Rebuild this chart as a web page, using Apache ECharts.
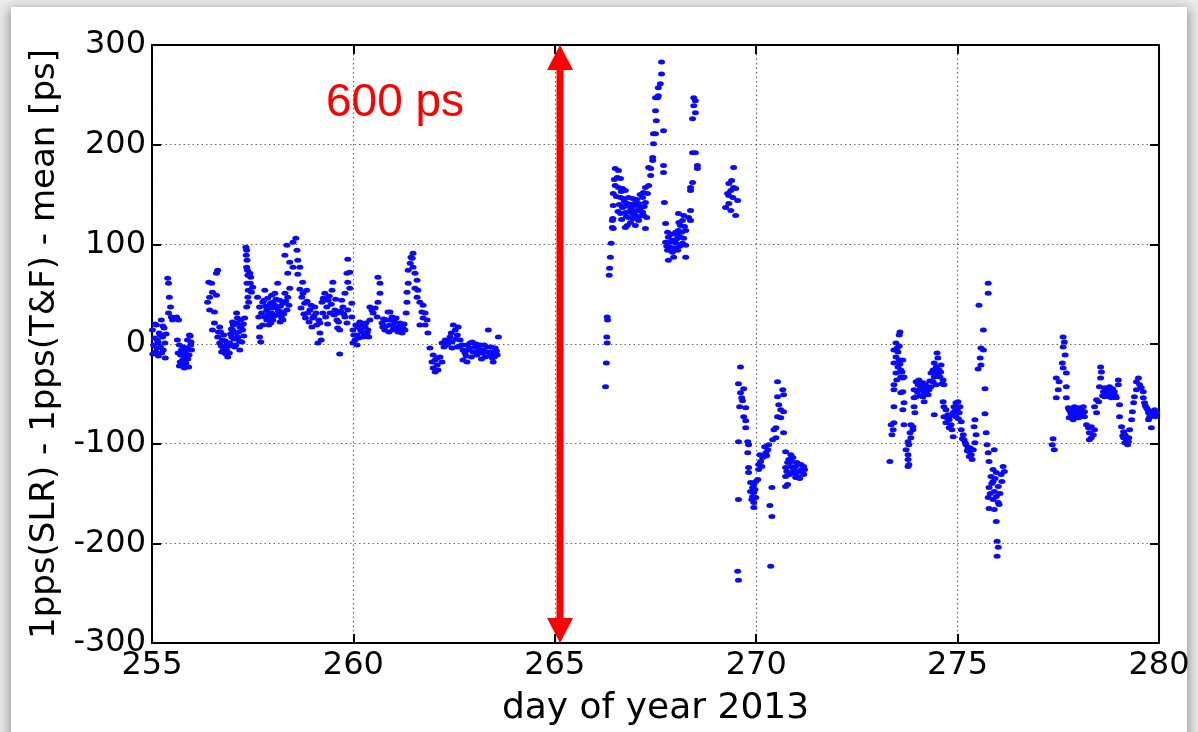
<!DOCTYPE html>
<html>
<head>
<meta charset="utf-8">
<script src="https://cdn.jsdelivr.net/npm/echarts@6/dist/echarts.min.js"></script>
<style>
  html, body { margin: 0; padding: 0; width: 1198px; height: 732px; overflow: hidden; background: #ececec; }
  #card { position: absolute; left: 11px; top: 7px; width: 1176px; height: 760px; background: #fff;
          box-shadow: 0 4px 12px 2px rgba(0,0,0,0.38); }
  #chart { position: absolute; left: 0; top: 0; width: 1198px; height: 732px; }
</style>
</head>
<body>
<div id="card"></div>
<div id="chart"></div>
<script>
// 1pps(SLR) - 1pps(T&F) - mean, [day of year 2013, ps], one list per observing run
const run1 = [
  [255.01,14],[255.04,-1],[255.06,6],[255.09,-8],[255.11,19],[255.13,4],[255.16,-12],[255.18,11],[255.21,-3],[255.23,24],
  [255.26,7],[255.28,-6],[255.30,16],[255.33,-14],[255.35,10],
  [255.02,-10],[255.07,20],[255.12,-4],[255.15,2],[255.20,9],[255.24,-9],[255.27,18],[255.32,1],
  [255.39,66],[255.41,61],[255.43,47],[255.46,37],[255.41,31],[255.48,27],[255.51,24],[255.56,26],[255.61,27],[255.66,24],
  [255.63,4],[255.68,-1],[255.71,-11],[255.73,-6],[255.76,-16],[255.78,-3],[255.81,-20],[255.83,-8],[255.86,-13],[255.88,4],
  [255.91,-23],[255.93,9],[255.96,-1],[255.98,-6],[255.68,-22],[255.74,-21],[255.80,-24],[255.89,-15],[255.95,8],
  [255.65,-9],[255.70,-18],[255.75,-10],[255.79,-12],[255.84,-19],[255.87,-4],[255.92,-11],[255.97,2],
  [256.38,42],[256.41,62],[256.43,47],[256.43,34],[256.48,61],[256.50,52],[256.50,14],[256.55,32],[256.55,21],[256.60,71],
  [256.60,49],[256.63,74],[256.63,7],[256.68,17],[256.68,1],[256.73,-8],[256.75,4],[256.80,-3],[256.85,-6],[256.88,-13],
  [256.93,1],[256.98,7],[257.00,14],[257.00,22],[257.05,-3],[257.10,21],[257.10,31],[257.13,7],[257.18,17],[257.18,-6],
  [257.23,2],[257.25,14],[257.30,26],[257.35,37],[256.70,12],[256.78,9],[256.83,-10],[256.90,-2],[256.95,10],[257.03,5],
  [257.08,-1],[257.15,12],[257.20,24],[257.28,8],
  [256.65,12],[256.72,-2],[256.77,-5],[256.82,3],[256.87,0],[256.92,-9],[256.97,15],[257.02,19],[257.07,11],[257.12,26],
  [257.17,3],[257.22,18],[257.27,20],
  [257.33,97],[257.35,94],[257.34,89],[257.36,84],[257.35,77],[257.37,74],[257.38,69],[257.36,61],[257.39,54],[257.38,47],
  [257.40,42],[257.43,71],[257.45,67],[257.44,61],[257.47,52],[257.50,57],
  [257.62,47],[257.67,37],[257.65,27],[257.67,17],[257.67,7],[257.70,2],[257.75,42],[257.80,54],[257.85,34],[257.87,46],
  [257.92,39],[257.97,31],[258.00,42],[258.05,51],[258.10,36],[258.12,61],[258.17,44],[258.22,32],[258.25,41],[258.30,51],
  [258.35,34],[258.37,47],[258.42,56],[257.85,24],[257.92,27],[257.80,27],[258.00,24],[258.12,29],[258.22,26],[257.75,19],
  [257.90,19],[258.25,24],[258.05,39],[257.97,49],
  [257.72,31],[257.78,44],[257.82,38],[257.88,30],[257.94,41],[257.99,36],[258.03,28],[258.08,45],[258.14,33],[258.19,38],
  [258.27,30],[258.32,43],[258.40,39],[257.95,21],[258.18,22],
  [258.30,89],[258.35,99],[258.37,71],[258.42,82],[258.50,102],[258.50,77],[258.57,106],[258.60,94],[258.62,84],
  [258.62,70],[258.67,77],[258.67,55],[258.72,47],[258.74,62],[258.77,30],[258.79,41],[258.84,54],[258.87,31],[258.92,34],
  [258.97,17],[258.99,26],[259.04,37],[259.09,19],[259.12,1],[259.17,11],
  [258.70,36],[258.75,51],[258.81,26],[258.85,43],[258.90,22],[258.95,39],[259.02,28],[259.07,31],[259.14,24],
  [259.17,21],[259.20,4],[259.22,42],[259.24,31],[259.29,51],[259.34,37],[259.37,44],[259.42,31],[259.47,54],[259.49,62],
  [259.54,34],[259.59,24],[259.61,31],[259.61,16],[259.66,14],[259.66,-10],[259.71,44],[259.74,37],[259.79,27],[259.84,21],
  [259.25,46],[259.31,27],[259.36,20],[259.40,48],[259.45,40],[259.52,29],[259.56,45],[259.63,22],[259.68,33],[259.76,30],
  [259.86,85],[259.84,71],[259.91,72],[259.86,62],[259.91,56],[259.79,51],[259.96,41],[259.86,34],[259.96,27],
  [259.99,14],[260.04,4],[260.09,9],[260.11,17],[260.16,22],[260.21,12],[260.24,7],[260.29,17],[260.34,11],[260.36,14],
  [260.41,24],[259.99,1],[260.09,-1],
  [260.01,9],[260.06,19],[260.13,6],[260.18,14],[260.23,19],[260.27,9],[260.31,21],[260.38,7],
  [260.61,67],[260.66,61],[260.66,51],[260.61,42],[260.54,36],[260.46,34],[260.49,31],[260.59,27],[260.41,37],
  [260.71,21],[260.73,17],[260.78,14],[260.83,24],[260.86,32],[260.91,19],[260.96,27],[260.98,14],[261.03,22],[261.08,17],
  [261.11,12],[261.16,21],[261.21,11],[261.23,16],[261.28,14],[260.91,32],
  [260.75,25],[260.81,18],[260.88,12],[260.93,24],[261.00,18],[261.06,26],[261.13,15],[261.18,18],[261.26,20],
  [261.31,31],[261.33,42],[261.33,52],[261.36,61],[261.36,74],[261.41,81],[261.43,87],[261.48,91],[261.46,86],
  [261.48,77],[261.53,71],[261.58,64],[261.53,56],[261.60,54],[261.58,47],
  [261.65,42],[261.73,39],[261.70,32],[261.78,31],[261.73,26],[261.83,24],[261.65,19],[261.78,19],[261.85,11],
  [261.90,-4],[261.98,-11],[262.03,-16],[261.95,-18],[262.08,-21],[261.98,-24],[262.10,-26],[262.03,-28],[262.15,-13],
  [262.20,-18],[262.08,-14],
  [262.20,1],[262.28,4],[262.33,-1],[262.40,7],[262.45,2],[262.48,19],[262.53,14],[262.58,9],[262.60,17],[262.65,4],
  [262.58,-3],[262.70,-1],[262.72,-6],[262.45,-4],[262.35,1],
  [262.25,-3],[262.38,3],[262.43,11],[262.55,5],[262.63,-2],
  [262.77,-9],[262.82,-1],[262.85,-6],[262.90,1],[262.95,2],[262.97,-8],[263.02,-3],[263.07,-11],[263.10,-4],[263.15,-1],
  [263.20,-9],[263.22,-6],[263.27,-13],[263.32,-3],[263.35,14],[263.40,-8],[263.45,-14],[263.47,-9],[263.52,-4],[263.57,-11],
  [263.60,7],[262.72,-16],[262.82,-18],[263.47,-18],
  [262.80,-12],[262.88,-4],[262.93,-13],[263.00,-8],[263.05,0],[263.13,-8],[263.18,-15],[263.25,-1],[263.30,-8],[263.38,-12],
  [263.42,-3],[263.50,-13],[263.55,-7]
];

const run2 = [
  [266.26,-43],[266.28,-19],[266.30,1],[266.29,7],[266.31,24],[266.30,27],[266.35,69],[266.36,76],[266.38,87],[266.40,101],
  [266.43,117],[266.44,126],
  [266.50,176],[266.58,174],[266.55,167],[266.63,166],[266.50,159],[266.58,157],[266.68,156],[266.75,154],[266.45,151],
  [266.63,147],[266.70,146],[266.83,147],[266.93,146],[266.80,141],[266.45,139],[266.68,137],[266.88,137],[267.00,139],
  [267.08,141],[266.75,132],[266.93,131],[267.05,134],[267.18,132],[266.63,131],[266.83,127],[266.95,126],[267.08,124],
  [267.20,129],[266.80,119],[267.00,119],[266.75,117],[267.25,116],[266.43,124],[266.45,116],[267.25,157],[267.30,151],
  [267.33,159],[267.20,152],[267.25,142],[267.18,147],[267.13,137],[266.95,134],
  [266.48,165],[266.53,148],[266.60,140],[266.65,153],[266.72,138],[266.78,128],[266.85,133],[266.90,140],[266.98,130],
  [267.03,145],[267.10,128],[267.15,133],[267.22,138],[266.66,125],[266.88,122],[266.57,133],[266.73,143],[267.12,150],
  [267.28,127],[266.97,141],
  [267.38,176],[267.43,187],[267.45,201],[267.50,211],[267.52,224],[267.50,234],[267.55,247],[267.57,257],[267.62,261],
  [267.65,271],[267.65,283],[267.57,249],[267.50,247],[267.43,184],[267.33,177],[267.45,211],[267.38,169],
  [267.70,214],[267.70,179],[267.70,172],[267.72,142],[267.75,121],
  [267.80,112],[267.82,107],[267.75,102],[267.87,97],[267.80,94],[267.92,92],[267.82,84],[267.95,87],[268.00,101],
  [268.05,109],[268.07,114],[268.12,119],[268.17,124],[268.20,129],[268.07,131],[268.25,114],[268.20,106],[268.17,101],
  [268.25,99],[268.05,94],[268.25,87],[268.12,107],[268.00,112],[267.92,104],
  [267.85,102],[267.90,110],[267.97,96],[268.02,105],[268.10,98],[268.15,112],[268.22,118],[267.78,98],[268.08,122],
  [268.45,247],[268.49,244],[268.45,239],[268.49,232],[268.42,226],[268.42,192],[268.49,192],[268.54,179],[268.54,176],
  [268.42,162],[268.37,157],[268.37,154],[268.37,134],[268.37,124],[268.32,127]
];

const run3 = [
  [269.44,177],[269.39,164],[269.32,161],[269.44,157],[269.37,154],[269.49,156],[269.29,151],[269.42,147],[269.54,144],
  [269.32,141],[269.24,137],[269.37,134],[269.49,129],[269.32,149],
  [269.61,-23],[269.56,-40],[269.69,-45],[269.61,-49],[269.64,-54],[269.66,-57],[269.59,-63],[269.74,-64],[269.69,-73],
  [269.74,-77],[269.74,-84],[269.56,-98],[269.79,-98],[269.81,-101],[269.79,-109],[269.81,-124],[269.81,-129],[269.56,-156],
  [269.54,-228],[269.56,-237],
  [269.99,-138],[269.94,-141],[269.91,-144],[269.86,-148],[269.94,-149],[269.91,-153],[269.99,-154],[269.94,-159],
  [269.94,-164],[270.04,-136],[269.86,-139],[269.89,-156],[269.97,-146],
  [270.06,-121],[270.11,-118],[270.16,-114],[270.19,-113],[270.24,-109],[270.29,-106],[270.21,-103],[270.31,-101],
  [270.14,-123],[270.06,-126],[270.09,-111],[270.26,-112],
  [270.39,-144],[270.34,-162],[270.39,-173],[270.36,-223],
  [270.53,-38],[270.66,-46],[270.68,-51],[270.53,-53],[270.56,-61],[270.61,-66],[270.68,-68],[270.53,-73],[270.61,-74],
  [270.49,-84],[270.44,-86],[270.49,-94],[270.68,-89],[270.41,-96],
  [270.73,-108],[270.86,-111],[270.91,-114],[270.78,-119],[270.86,-123],[270.98,-123],[271.11,-121],[271.18,-123],
  [270.73,-124],[270.93,-126],[271.06,-128],[271.16,-129],[271.03,-133],[270.73,-133],[271.18,-131],[270.98,-134],
  [270.78,-141],[270.73,-143],[270.91,-129],[270.81,-116],
  [270.76,-128],[270.83,-131],[270.88,-118],[270.96,-130],[271.01,-119],[271.08,-135],[271.13,-126],[271.20,-126]
];

const run4 = [
  [273.32,-118],[273.35,-81],[273.40,-86],[273.37,-91],[273.42,-79],[273.42,-63],[273.42,-46],[273.42,-41],
  [273.57,12],[273.55,9],[273.47,1],[273.55,-2],[273.42,-6],[273.52,-8],[273.47,-13],[273.55,-16],[273.64,-16],[273.42,-19],
  [273.52,-23],[273.59,-26],[273.47,-29],[273.59,-33],[273.67,-33],[273.64,-34],
  [273.50,-4],[273.57,-20],[273.62,-28],[273.49,-36],
  [273.64,-48],[273.59,-49],[273.67,-59],[273.64,-66],[273.67,-81],
  [273.84,-81],[273.89,-86],[273.82,-89],[273.84,-94],[273.77,-98],[273.79,-101],[273.72,-106],[273.77,-111],[273.77,-116],
  [273.79,-121],[273.77,-123],[273.89,-83],
  [273.92,-63],[273.92,-54],[273.97,-53],[273.94,-69],
  [273.97,-38],[274.02,-41],[274.04,-36],[274.09,-43],[274.14,-39],[274.04,-46],[274.17,-48],[274.14,-53],[274.22,-49],
  [274.27,-51],[274.17,-58],[274.29,-46],[274.34,-43],[273.92,-46],
  [274.00,-48],[274.07,-52],[274.12,-45],[274.20,-41],[274.25,-44],[274.31,-37],
  [274.39,-38],[274.42,-33],[274.34,-29],[274.39,-26],[274.47,-23],[274.42,-19],[274.51,-14],[274.49,-9],[274.54,-26],
  [274.59,-21],[274.64,-36],[274.56,-33],[274.66,-41],[274.47,-41],[274.42,-71],
  [274.44,-28],[274.52,-31],[274.58,-28],[274.61,-40],
  [274.64,-58],[274.66,-63],[274.71,-66],[274.76,-71],[274.79,-76],[274.71,-79],[274.84,-81],[274.79,-84],[274.89,-93],
  [274.91,-63],[274.96,-59],[275.01,-58],[274.99,-66],[275.04,-69],[274.96,-73],[274.89,-69],[275.09,-78],[274.66,-73],
  [274.74,-74],[274.82,-72],[274.86,-86],[274.94,-67],[275.02,-75],[275.06,-63],
  [275.09,-86],[275.14,-91],[275.16,-96],[275.21,-101],[275.26,-104],[275.29,-108],[275.34,-111],[275.36,-116],[275.29,-113],
  [275.39,-106],[275.12,-95],[275.19,-99],[275.24,-107],[275.31,-104],
  [275.43,-76],[275.41,-83],[275.46,-91],[275.43,-99],
  [275.76,61],[275.76,51],[275.53,39],[275.64,14],[275.58,-4],[275.64,-6],[275.56,-14],[275.58,-21],[275.51,-25],
  [275.68,-45],[275.68,-70],[275.71,-89],[275.73,-101],[275.76,-109],
  [275.78,-118],[275.91,-106],[275.88,-126],[275.96,-129],[275.83,-133],[276.13,-123],[276.16,-128],[276.08,-131],
  [275.88,-138],[276.01,-143],[275.78,-144],[275.91,-148],[275.96,-153],[275.76,-154],[275.88,-156],[276.01,-159],
  [275.78,-165],[276.03,-161],[275.96,-178],[275.98,-198],[276.01,-204],[275.98,-213],[275.91,-166],
  [275.85,-140],[275.93,-135],[276.05,-150],[276.10,-138],[275.81,-150]
];

const run5 = [
  [277.37,-95],[277.35,-101],[277.40,-106],[277.62,7],[277.65,2],[277.62,-3],[277.67,-11],[277.60,-19],[277.62,-24],
  [277.70,-29],[277.45,-34],[277.52,-38],[277.50,-46],[277.70,-43],[277.45,-54],[277.70,-54],[277.75,-64],
  [277.77,-66],[277.82,-71],[277.87,-66],[277.90,-73],[277.95,-68],[278.00,-64],[278.02,-71],[278.07,-66],[278.12,-63],
  [278.15,-68],[277.87,-76],[278.00,-74],[277.77,-74],[278.07,-73],[278.15,-73],[277.90,-63],
  [277.80,-68],[277.85,-70],[277.92,-70],[277.97,-67],[278.05,-69],[278.10,-70],
  [278.20,-81],[278.25,-84],[278.27,-89],[278.32,-94],[278.27,-96],[278.37,-91],[278.32,-83],[278.40,-86],
  [278.45,-69],[278.40,-63],[278.50,-58],[278.52,-43],[278.55,-34],[278.57,-28],[278.55,-23],[278.45,-56],
  [278.62,-48],[278.65,-44],[278.70,-49],[278.75,-46],[278.77,-43],[278.82,-48],[278.87,-51],[278.89,-48],[278.75,-53],
  [278.65,-53],[278.94,-54],[278.82,-54],
  [278.60,-52],[278.68,-47],[278.72,-50],[278.80,-51],[278.85,-45],[278.92,-52],
  [278.99,-36],[278.99,-41],[279.02,-61],[279.02,-73],
  [279.07,-83],[279.12,-88],[279.15,-91],[279.19,-96],[279.15,-99],[279.22,-101],[279.25,-94],[279.27,-86],[279.12,-94],
  [279.10,-92],[279.18,-93],[279.24,-98],
  [279.32,-76],[279.34,-68],[279.37,-59],[279.39,-53],
  [279.44,-38],[279.49,-34],[279.52,-41],[279.44,-46],[279.56,-44],[279.61,-48],
  [279.61,-54],[279.64,-59],[279.69,-64],[279.74,-69],[279.76,-74],[279.81,-71],[279.86,-68],[279.89,-66],[279.94,-69],
  [279.81,-84],[279.74,-76],[279.66,-62],[279.72,-66],[279.78,-72],[279.91,-73]
];

// Axis ranges and ticks
const dayTicks = { min: 255, max: 280, step: 5 };
const psTicks = { min: -300, max: 300, step: 100 };

// Peak-to-peak span marker: [day, low, high] and where its caption sits
const spanArrow = [[265.13, -300, 300]];
const spanCaptionAt = [259.32, 241];

const chart = echarts.init(document.getElementById('chart'), null, { renderer: 'canvas' });

const axisLineStyle = { color: '#000', width: 2 };
const tickStyle = { show: true, inside: true, length: 9, lineStyle: { color: '#000', width: 2 } };
const gridLineStyle = { show: true, lineStyle: { color: '#666', width: 1.2, type: [1.5, 3] } };
const labelFont = { color: '#000', fontFamily: 'DejaVu Sans', fontSize: 32 };

chart.setOption({
  animation: false,
  backgroundColor: 'transparent',
  grid: { left: 152, right: 39, top: 45, bottom: 89, containLabel: false },
  xAxis: [
    {
      type: 'value', position: 'bottom', min: dayTicks.min, max: dayTicks.max, interval: dayTicks.step,
      axisLine: { show: true, onZero: false, lineStyle: axisLineStyle },
      axisTick: tickStyle,
      axisLabel: Object.assign({ margin: 7, showMinLabel: true, showMaxLabel: true }, labelFont),
      splitLine: gridLineStyle,
      name: 'day of year 2013', nameLocation: 'middle', nameGap: 48,
      nameTextStyle: { color: '#000', fontFamily: 'DejaVu Sans', fontSize: 36 }
    },
    {
      type: 'value', position: 'top', min: dayTicks.min, max: dayTicks.max, interval: dayTicks.step,
      axisLine: { show: true, onZero: false, lineStyle: axisLineStyle },
      axisTick: tickStyle, axisLabel: { show: false }, splitLine: { show: false }
    }
  ],
  yAxis: [
    {
      type: 'value', position: 'left', min: psTicks.min, max: psTicks.max, interval: psTicks.step,
      axisLine: { show: true, onZero: false, lineStyle: axisLineStyle },
      axisTick: tickStyle,
      axisLabel: Object.assign({ margin: 6, showMinLabel: true, showMaxLabel: true }, labelFont),
      splitLine: gridLineStyle,
      name: '1pps(SLR) - 1pps(T&F) - mean [ps]', nameLocation: 'middle', nameGap: 90, nameRotate: 90,
      nameTextStyle: { color: '#000', fontFamily: 'DejaVu Sans', fontSize: 34 }
    },
    {
      type: 'value', position: 'right', min: psTicks.min, max: psTicks.max, interval: psTicks.step,
      axisLine: { show: true, onZero: false, lineStyle: axisLineStyle },
      axisTick: tickStyle, axisLabel: { show: false }, splitLine: { show: false }
    }
  ],
  series: [
    {
      type: 'scatter',
      xAxisIndex: 0, yAxisIndex: 0,
      data: [].concat(run1, run2, run3, run4, run5),
      symbol: 'circle',
      symbolSize: [7, 5],
      itemStyle: { color: '#0a0aff', opacity: 1 },
      silent: true,
      z: 3
    },
    {
      type: 'custom',
      xAxisIndex: 0, yAxisIndex: 0,
      data: spanArrow,
      silent: true,
      z: 10,
      renderItem: function (params, api) {
        const day = api.value(0), low = api.value(1), high = api.value(2);
        const top = api.coord([day, high]);
        const bot = api.coord([day, low]);
        const cap = api.coord(spanCaptionAt);
        const headW = 26, headH = 25, shaftW = 7;
        const x = top[0];
        return {
          type: 'group',
          children: [
            { type: 'rect',
              shape: { x: x - shaftW / 2, y: top[1] + headH - 2, width: shaftW, height: bot[1] - top[1] - 2 * headH + 4 },
              style: { fill: '#ff0000' } },
            { type: 'polygon',
              shape: { points: [[x, top[1]], [x - headW / 2, top[1] + headH], [x + headW / 2, top[1] + headH]] },
              style: { fill: '#ff0000' } },
            { type: 'polygon',
              shape: { points: [[x, bot[1]], [x - headW / 2, bot[1] - headH], [x + headW / 2, bot[1] - headH]] },
              style: { fill: '#ff0000' } },
            { type: 'text', x: cap[0], y: cap[1],
              style: { text: (high - low) + ' ps', fill: '#ff0000', font: '46px "Liberation Sans"',
                       align: 'left', verticalAlign: 'middle' } }
          ]
        };
      }
    }
  ]
});
</script>
</body>
</html>
